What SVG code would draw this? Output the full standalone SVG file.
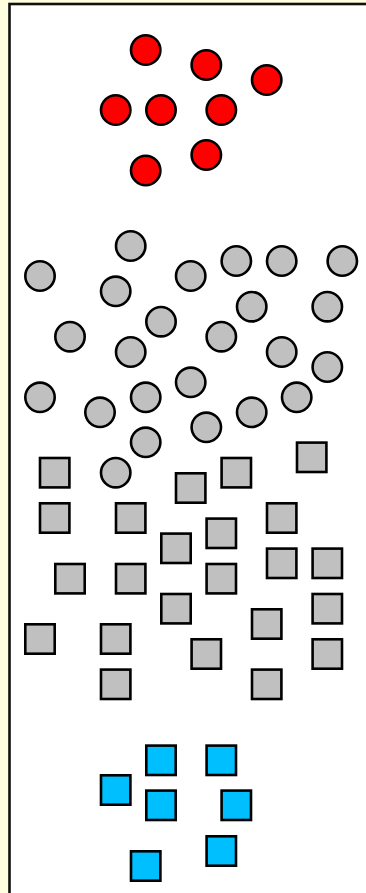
<svg xmlns="http://www.w3.org/2000/svg" width="366" height="893" viewBox="0 0 366 893">
<style>
.c{stroke:#000;stroke-width:2.6}
.red{fill:#FF0000}
.gray{fill:#C0C0C0}
.blue{fill:#00BFFF}
</style>
<defs>
<circle id="circ" r="14.7"/>
<rect id="sq" x="-14.7" y="-14.7" width="29.4" height="29.4"/>
</defs>
<rect x="0" y="0" width="366" height="893" fill="#FFFFE0"/>
<rect x="9.5" y="4" width="380" height="900" fill="#FFFFFF" stroke="#111" stroke-width="2.6"/>
<g id="connectors"/>
<g id="red-circles" class="c red">
<g id="r1"><use href="#circ" x="145.7" y="50"/></g>
<g id="r2"><use href="#circ" x="206.3" y="65"/></g>
<g id="r3"><use href="#circ" x="266.7" y="80"/></g>
<g id="r4"><use href="#circ" x="115.7" y="110"/></g>
<g id="r5"><use href="#circ" x="161" y="110"/></g>
<g id="r6"><use href="#circ" x="221.3" y="110"/></g>
<g id="r7"><use href="#circ" x="206.3" y="155"/></g>
<g id="r8"><use href="#circ" x="145.7" y="170.5"/></g>
</g>
<g id="gray-circles" class="c gray">
<g id="g1"><use href="#circ" x="130.7" y="246"/></g>
<g id="g2"><use href="#circ" x="40" y="276"/></g>
<g id="g3"><use href="#circ" x="190.7" y="276"/></g>
<g id="g4"><use href="#circ" x="236.3" y="261"/></g>
<g id="g5"><use href="#circ" x="281.7" y="261"/></g>
<g id="g6"><use href="#circ" x="342.3" y="261"/></g>
<g id="g7"><use href="#circ" x="115.7" y="291.3"/></g>
<g id="g8"><use href="#circ" x="251.7" y="306.7"/></g>
<g id="g9"><use href="#circ" x="327.3" y="306.7"/></g>
<g id="g10"><use href="#circ" x="161" y="321.7"/></g>
<g id="g11"><use href="#circ" x="70" y="336.7"/></g>
<g id="g12"><use href="#circ" x="221.3" y="336.7"/></g>
<g id="g13"><use href="#circ" x="130.7" y="352"/></g>
<g id="g14"><use href="#circ" x="281.7" y="352"/></g>
<g id="g15"><use href="#circ" x="327.3" y="367"/></g>
<g id="g16"><use href="#circ" x="190.7" y="382.3"/></g>
<g id="g17"><use href="#circ" x="40" y="397.3"/></g>
<g id="g18"><use href="#circ" x="145.7" y="397.3"/></g>
<g id="g19"><use href="#circ" x="296.7" y="397.3"/></g>
<g id="g20"><use href="#circ" x="100" y="412.3"/></g>
<g id="g21"><use href="#circ" x="251.7" y="412.3"/></g>
<g id="g22"><use href="#circ" x="206.3" y="427.3"/></g>
<g id="g23"><use href="#circ" x="145.7" y="442.3"/></g>
<g id="g24"><use href="#circ" x="115.7" y="472.7"/></g>
</g>
<g id="gray-squares" class="c gray">
<g id="s1"><use href="#sq" x="54.7" y="472.7"/></g>
<g id="s2"><use href="#sq" x="190.7" y="488"/></g>
<g id="s3"><use href="#sq" x="236.3" y="472.7"/></g>
<g id="s4"><use href="#sq" x="311.7" y="457.3"/></g>
<g id="s5"><use href="#sq" x="54.7" y="518"/></g>
<g id="s6"><use href="#sq" x="130.7" y="518"/></g>
<g id="s7"><use href="#sq" x="221.3" y="533.3"/></g>
<g id="s8"><use href="#sq" x="281.7" y="518"/></g>
<g id="s9"><use href="#sq" x="176" y="548.3"/></g>
<g id="s10"><use href="#sq" x="70" y="578.7"/></g>
<g id="s11"><use href="#sq" x="130.7" y="578.7"/></g>
<g id="s12"><use href="#sq" x="221.3" y="578.7"/></g>
<g id="s13"><use href="#sq" x="281.7" y="563.3"/></g>
<g id="s14"><use href="#sq" x="327.3" y="563.3"/></g>
<g id="s15"><use href="#sq" x="176" y="608.7"/></g>
<g id="s16"><use href="#sq" x="327.3" y="608.7"/></g>
<g id="s17"><use href="#sq" x="266.7" y="624"/></g>
<g id="s18"><use href="#sq" x="40" y="639"/></g>
<g id="s19"><use href="#sq" x="115.7" y="639"/></g>
<g id="s20"><use href="#sq" x="206.3" y="654"/></g>
<g id="s21"><use href="#sq" x="327.3" y="654"/></g>
<g id="s22"><use href="#sq" x="115.7" y="684.3"/></g>
<g id="s23"><use href="#sq" x="266.7" y="684.3"/></g>
</g>
<g id="blue-squares" class="c blue">
<g id="b1"><use href="#sq" x="161" y="760.3"/></g>
<g id="b2"><use href="#sq" x="221.3" y="760.3"/></g>
<g id="b3"><use href="#sq" x="115.7" y="790"/></g>
<g id="b4"><use href="#sq" x="161" y="805.3"/></g>
<g id="b5"><use href="#sq" x="236.3" y="805.3"/></g>
<g id="b6"><use href="#sq" x="221.3" y="851"/></g>
<g id="b7"><use href="#sq" x="145.7" y="866"/></g>
</g>
</svg>
